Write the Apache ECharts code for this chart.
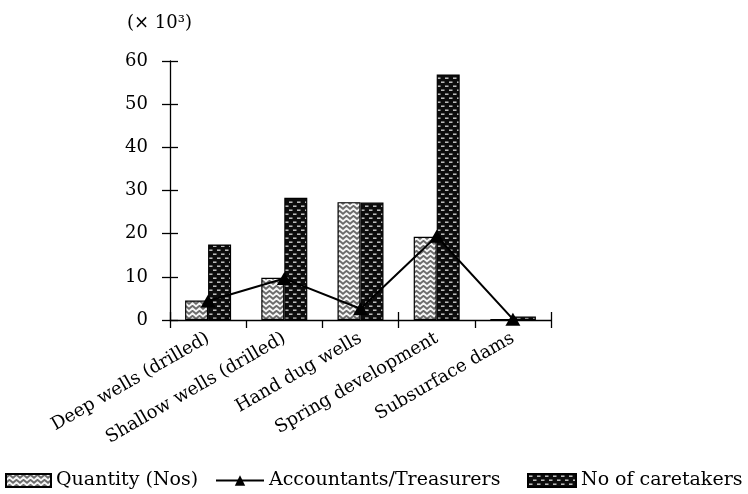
<!DOCTYPE html>
<html>
<head>
<meta charset="utf-8">
<script src="https://cdn.jsdelivr.net/npm/echarts@6/dist/echarts.min.js"></script>
<style>html,body{margin:0;padding:0;background:#fff;}#c{width:748px;height:494px;}</style>
</head>
<body>
<div id="c"></div>
<script>
const categories = ['Deep wells (drilled)', 'Shallow wells (drilled)', 'Hand dug wells', 'Spring development', 'Subsurface dams'];
const quantity = [4.5, 9.8, 27.3, 19.3, 0.2];
const accountants = [4.4, 9.6, 2.6, 19.4, 0.2];
const caretakers = [17.5, 28.3, 27.2, 56.9, 0.8];
const yTicks = { min: 0, max: 60, interval: 10 };
const seriesNames = ['Quantity (Nos)', 'Accountants/Treasurers', 'No of caretakers'];

function zigzagPattern() {
  const c = document.createElement('canvas');
  c.width = 7; c.height = 5;
  const g = c.getContext('2d');
  g.fillStyle = '#f4f4f4'; g.fillRect(0, 0, 7, 5);
  g.strokeStyle = '#6a6a6a'; g.lineWidth = 1.8;
  g.beginPath();
  g.moveTo(-0.5, 4.2); g.lineTo(3.5, 0.8); g.lineTo(7.5, 4.2);
  g.stroke();
  return c;
}
function brickPattern() {
  const c = document.createElement('canvas');
  c.width = 8; c.height = 8;
  const g = c.getContext('2d');
  g.fillStyle = '#0c0c0c'; g.fillRect(0, 0, 8, 8);
  g.fillStyle = '#cfcfcf';
  g.fillRect(1, 1.5, 3.5, 1.4);
  g.fillRect(5, 5.5, 3, 1.4);
  g.fillRect(0, 5.5, 0.5, 1.4);
  return c;
}
const font = 'DejaVu Serif';
const legendText = { fontFamily: font, fontSize: 19, color: '#000' };
const chart = echarts.init(document.getElementById('c'), null, { renderer: 'canvas' });
chart.setOption({
  backgroundColor: '#fff',
  animation: false,
  textStyle: { fontFamily: font, color: '#000' },
  title: { text: '(× 10³)', left: 122, top: 9, textStyle: { fontFamily: font, fontSize: 18, fontWeight: 'normal', color: '#000' } },
  grid: { left: 170, right: 197, top: 61, bottom: 174, containLabel: false },
  legend: [
    { data: [{ name: seriesNames[0], icon: 'rect' }], left: 0, top: 466, itemWidth: 45, itemHeight: 13, itemGap: 0, textStyle: legendText },
    { data: [seriesNames[1]], left: 210, top: 466, itemWidth: 48, itemHeight: 13, textStyle: legendText },
    { data: [{ name: seriesNames[2], icon: 'rect' }], left: 522, top: 466, itemWidth: 48, itemHeight: 13, textStyle: legendText }
  ],
  xAxis: [
    { type: 'category', data: categories, boundaryGap: true,
      axisLine: { lineStyle: { color: '#000', width: 1.3 } },
      axisTick: { show: true, length: 8, lineStyle: { color: '#000', width: 1.3 } },
      axisLabel: { rotate: 30, margin: 17, fontSize: 18, fontFamily: font, color: '#000', interval: 0 } },
    { type: 'category', data: categories, boundaryGap: true, position: 'bottom',
      axisLine: { show: false },
      axisTick: { show: true, inside: true, length: 8, lineStyle: { color: '#000', width: 1.3 } },
      axisLabel: { show: false } }
  ],
  yAxis: [
    { type: 'value', min: yTicks.min, max: yTicks.max, interval: yTicks.interval,
      axisLine: { show: true, lineStyle: { color: '#000', width: 1.3 } },
      axisTick: { show: true, length: 8, lineStyle: { color: '#000', width: 1.3 } },
      splitLine: { show: false },
      axisLabel: { margin: 22, fontSize: 18, fontFamily: font, color: '#000' } },
    { type: 'value', min: yTicks.min, max: yTicks.max, interval: yTicks.interval, position: 'left',
      axisLine: { show: false },
      axisTick: { show: true, inside: true, length: 8, lineStyle: { color: '#000', width: 1.3 } },
      splitLine: { show: false },
      axisLabel: { show: false } }
  ],
  series: [
    { name: seriesNames[0], type: 'bar', data: quantity, barWidth: 23, barGap: '0%',
      itemStyle: { color: { image: zigzagPattern(), repeat: 'repeat' }, borderColor: '#000', borderWidth: 1.2 } },
    { name: seriesNames[2], type: 'bar', data: caretakers, barWidth: 23, barGap: '0%',
      itemStyle: { color: { image: brickPattern(), repeat: 'repeat' }, borderColor: '#000', borderWidth: 1.2 } },
    { name: seriesNames[1], type: 'line', data: accountants, z: 10,
      symbol: 'triangle', symbolSize: [15, 13], showAllSymbol: true,
      itemStyle: { color: '#000' }, lineStyle: { color: '#000', width: 2 } }
  ]
});
</script>
</body>
</html>
